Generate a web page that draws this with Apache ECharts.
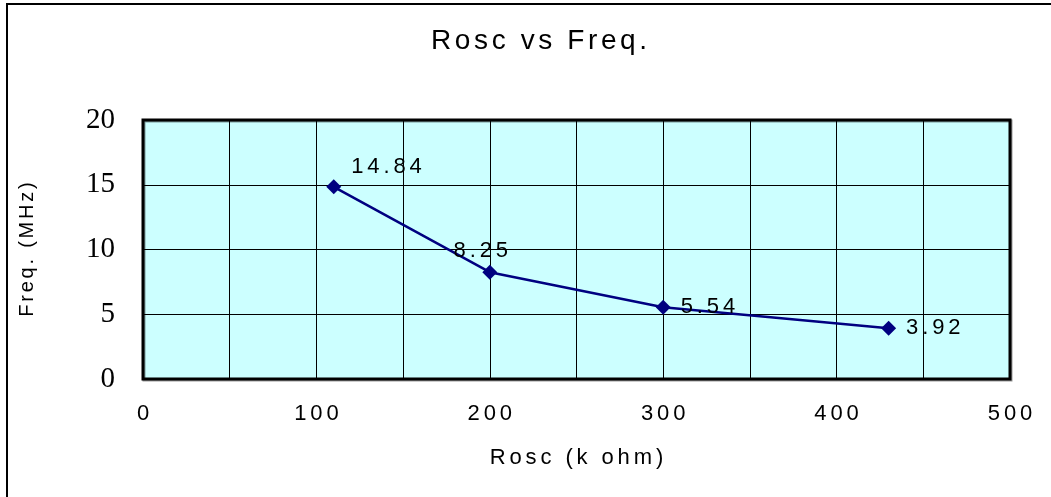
<!DOCTYPE html>
<html>
<head>
<meta charset="utf-8">
<script src="https://cdn.jsdelivr.net/npm/echarts@6/dist/echarts.min.js"></script>
<style>
html,body{margin:0;padding:0;background:#fff;}
#chart{width:1051px;height:497px;}
</style>
</head>
<body>
<div id="chart"></div>
<script>
var rosc = [110, 200, 300, 430];
var freq = [14.84, 8.25, 5.54, 3.92];
var xTicks = [0, 100, 200, 300, 400, 500];

// the original uses wide letter spacing; fake it with small spaces in rich text
function spaced(s) {
  return String(s).split('').join('{g| }');
}
var gap = { g: { fontFamily: 'Liberation Sans', fontSize: 14 } };

var points = [];
for (var i = 0; i < rosc.length; i++) {
  points.push({ value: [rosc[i], freq[i]] });
}
points[0].label = { position: 'right', offset: [0, -20] };
points[1].label = { position: 'top', offset: [-9, 7] };
points[2].label = { position: 'right' };
points[3].label = { position: 'right' };

var myChart = echarts.init(document.getElementById('chart'));
var option = {
  backgroundColor: '#fff',
  animation: false,
  title: {
    text: spaced('Rosc vs Freq.'),
    left: 426,
    top: 22,
    textStyle: {
      fontFamily: 'Liberation Sans', fontSize: 28, fontWeight: 'normal', color: '#000',
      rich: { g: { fontFamily: 'Liberation Sans', fontSize: 13 } }
    }
  },
  graphic: [{
    type: 'rect',
    shape: { x: 7, y: 4, width: 1100, height: 600 },
    style: { fill: 'none', stroke: '#000', lineWidth: 2 },
    z: 100
  }],
  grid: {
    left: 143, right: 41, top: 120, bottom: 118,
    show: true,
    backgroundColor: '#ccffff',
    borderColor: '#000',
    borderWidth: 3,
    shadowColor: 'rgba(0,0,0,0.4)',
    shadowOffsetX: 1,
    shadowOffsetY: 1
  },
  xAxis: {
    type: 'value',
    min: 0, max: 500, interval: 50,
    name: spaced('Rosc (k ohm)'),
    nameLocation: 'middle',
    nameGap: 68,
    nameTextStyle: { fontFamily: 'Liberation Sans', fontSize: 22, color: '#000', rich: gap },
    axisLine: { show: false },
    axisTick: { show: false },
    axisLabel: {
      margin: 24,
      fontFamily: 'Liberation Sans', fontSize: 22, color: '#000',
      rich: gap,
      formatter: function (v) { return xTicks.indexOf(v) >= 0 ? spaced(v) : ''; }
    },
    splitLine: { show: true, lineStyle: { color: '#000', width: 1 } }
  },
  yAxis: {
    type: 'value',
    min: 0, max: 20, interval: 5,
    name: spaced('Freq. (MHz)'),
    nameLocation: 'middle',
    nameGap: 106,
    nameTextStyle: {
      fontFamily: 'Liberation Sans', fontSize: 20, color: '#000',
      rich: { g: { fontFamily: 'Liberation Sans', fontSize: 10 } }
    },
    axisLine: { show: false },
    axisTick: { show: true, length: 10, inside: true, lineStyle: { color: '#000' } },
    axisLabel: {
      margin: 28,
      fontFamily: 'Liberation Serif', fontSize: 29, color: '#000'
    },
    splitLine: { show: true, lineStyle: { color: '#000', width: 1 } }
  },
  series: [{
    type: 'line',
    data: points,
    symbol: 'diamond',
    symbolSize: 15,
    lineStyle: { color: '#000080', width: 2.5 },
    itemStyle: { color: '#000080' },
    label: {
      show: true,
      distance: 10,
      fontFamily: 'Liberation Sans', fontSize: 22, color: '#000',
      rich: gap,
      formatter: function (p) { return spaced(p.value[1].toFixed(2)); }
    }
  }]
};
myChart.setOption(option);
</script>
</body>
</html>
